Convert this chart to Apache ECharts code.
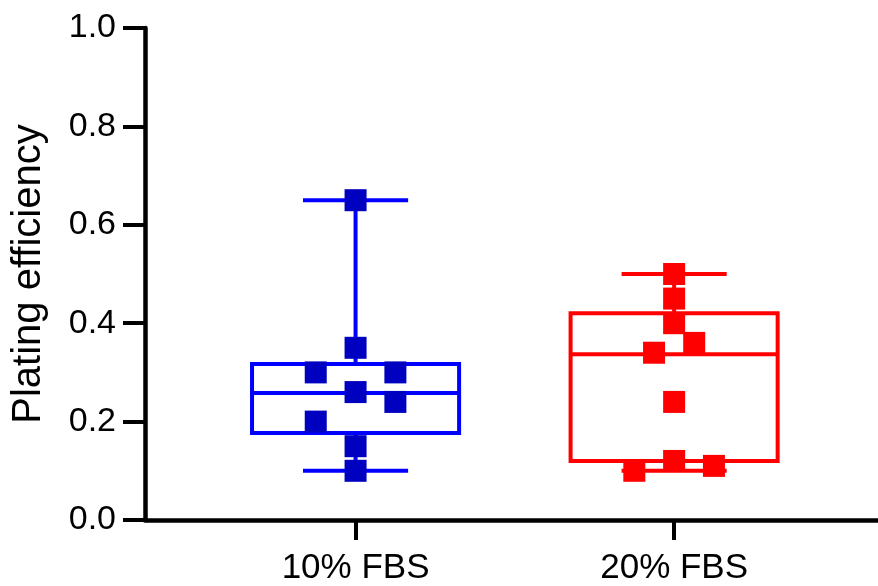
<!DOCTYPE html>
<html>
<head>
<meta charset="utf-8">
<script src="https://cdn.jsdelivr.net/npm/echarts@6/dist/echarts.min.js"></script>
<style>
  html, body { margin: 0; padding: 0; background: #fff; }
  #chart { width: 878px; height: 586px; }
</style>
</head>
<body>
<div id="chart"></div>
<script>
// ---- Data ----
const categories = ['10% FBS', '20% FBS'];
const yTicks = [0.0, 0.2, 0.4, 0.6, 0.8, 1.0];
// box stats: [min, Q1, median, Q3, max]
const box10 = [0.10, 0.177, 0.258, 0.317, 0.65];
const box20 = [0.10, 0.12, 0.337, 0.42, 0.50];
// individual points
const points10 = [0.65, 0.35, 0.30, 0.30, 0.26, 0.24, 0.20, 0.15, 0.10];
const jitter10 = [0, 0, -0.125, 0.125, 0, 0.125, -0.125, 0, 0];
const points20 = [0.50, 0.45, 0.40, 0.36, 0.34, 0.24, 0.12, 0.11, 0.10];
const jitter20 = [0, 0, 0, 0.063, -0.063, 0, 0, 0.125, -0.125];

const BLUE = '#0000FF', BLUE_PT = '#0000C0', RED = '#FF0000';
const FONT = 'Liberation Sans, Arial, sans-serif';

const chart = echarts.init(document.getElementById('chart'), null, { renderer: 'canvas' });

function boxRender(color) {
  return function (params, api) {
    const x = api.value(0);
    const v = [1, 2, 3, 4, 5].map(i => api.value(i));
    const unit = api.size([1, 0])[0];
    const hw = unit * 0.325;
    const cw = unit * 0.165;
    const p = val => api.coord([x, val]);
    const pMin = p(v[0]), pQ1 = p(v[1]), pMed = p(v[2]), pQ3 = p(v[3]), pMax = p(v[4]);
    const style = { stroke: color, lineWidth: 4, fill: null };
    return {
      type: 'group',
      children: [
        { type: 'line', shape: { x1: pMax[0], y1: pMax[1], x2: pQ3[0], y2: pQ3[1] }, style },
        { type: 'line', shape: { x1: pQ1[0], y1: pQ1[1], x2: pMin[0], y2: pMin[1] }, style },
        { type: 'line', shape: { x1: pMax[0] - cw, y1: pMax[1], x2: pMax[0] + cw, y2: pMax[1] }, style },
        { type: 'line', shape: { x1: pMin[0] - cw, y1: pMin[1], x2: pMin[0] + cw, y2: pMin[1] }, style },
        { type: 'rect', shape: { x: pQ3[0] - hw, y: pQ3[1], width: hw * 2, height: pQ1[1] - pQ3[1] }, style: { stroke: color, lineWidth: 4, fill: 'rgba(0,0,0,0)' } },
        { type: 'line', shape: { x1: pMed[0] - hw, y1: pMed[1], x2: pMed[0] + hw, y2: pMed[1] }, style }
      ]
    };
  };
}

const option = {
  backgroundColor: '#fff',
  animation: false,
  grid: { left: 145, right: 0, top: 28, bottom: 64, containLabel: false },
  xAxis: {
    type: 'value',
    min: -0.661,
    max: 1.64,
    splitLine: { show: false },
    axisLine: { show: true, onZero: false, lineStyle: { color: '#000', width: 4.5 } },
    axisTick: { show: true, customValues: [0, 1], length: 20, lineStyle: { color: '#000', width: 4 } },
    axisLabel: {
      customValues: [0, 1],
      formatter: v => categories[Math.round(v)] || '',
      color: '#000', fontSize: 35, fontFamily: FONT, margin: 31
    }
  },
  yAxis: {
    type: 'value',
    min: 0, max: 1, interval: 0.2,
    name: 'Plating efficiency',
    nameLocation: 'middle',
    nameGap: 96,
    nameTextStyle: { color: '#000', fontSize: 40, fontFamily: FONT },
    splitLine: { show: false },
    axisLine: { show: true, onZero: false, lineStyle: { color: '#000', width: 4.5 } },
    axisTick: { show: true, length: 22, lineStyle: { color: '#000', width: 4 } },
    axisLabel: {
      formatter: v => { const t = yTicks.find(k => Math.abs(k - v) < 1e-9); return (t !== undefined ? t : v).toFixed(1); },
      color: '#000', fontSize: 34, fontFamily: FONT, margin: 29
    }
  },
  series: [
    {
      type: 'custom', name: '10% FBS box', z: 2, clip: false,
      renderItem: boxRender(BLUE),
      data: [[0].concat(box10)]
    },
    {
      type: 'custom', name: '20% FBS box', z: 2, clip: false,
      renderItem: boxRender(RED),
      data: [[1].concat(box20)]
    },
    {
      type: 'scatter', name: '10% FBS', z: 3,
      symbol: 'rect', symbolSize: 22,
      itemStyle: { color: BLUE_PT, opacity: 1 },
      data: points10.map((v, i) => [0 + jitter10[i], v])
    },
    {
      type: 'scatter', name: '20% FBS', z: 3,
      symbol: 'rect', symbolSize: 22,
      itemStyle: { color: RED, opacity: 1 },
      data: points20.map((v, i) => [1 + jitter20[i], v])
    }
  ]
};
chart.setOption(option);
</script>
</body>
</html>
